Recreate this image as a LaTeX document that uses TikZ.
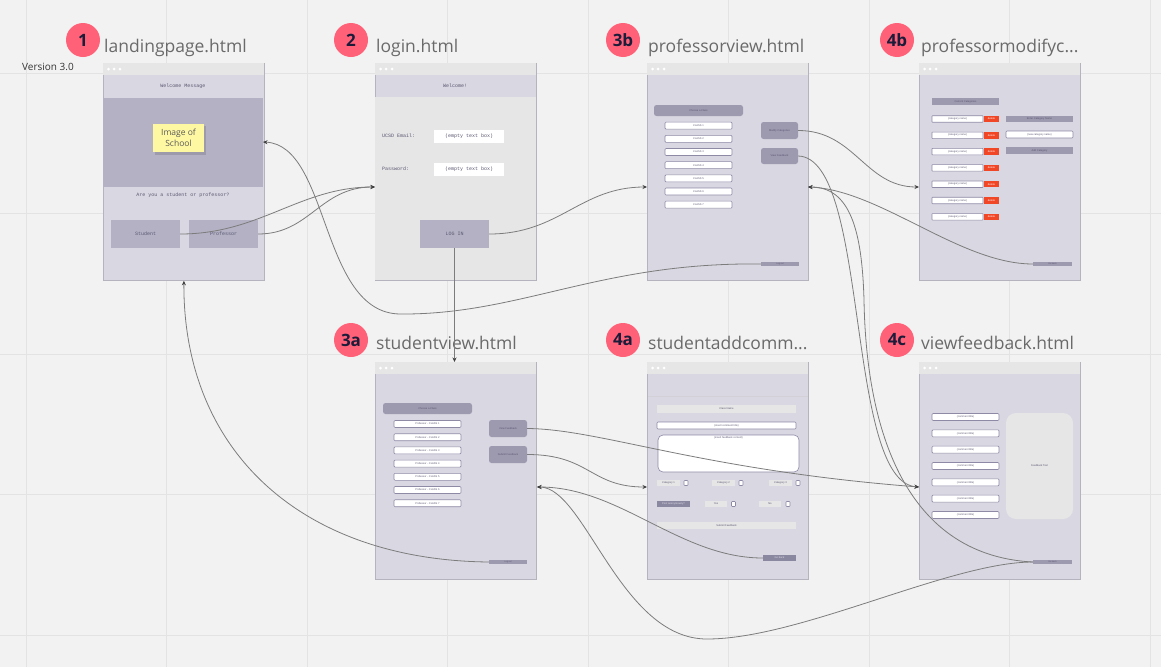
\documentclass[tikz,border=0pt]{standalone}
\usepackage{fontspec}
\setmainfont{Open Sans}
\newfontfamily\monof{Liberation Mono}
\newfontfamily\smallf{Liberation Sans}
\usetikzlibrary{arrows.meta}
\definecolor{bgc}{HTML}{F2F2F2}
\definecolor{gridc}{HTML}{E3E3E3}
\definecolor{framebg}{HTML}{D9D7E1}
\definecolor{framebd}{HTML}{B5B3BD}
\definecolor{barc}{HTML}{E6E6E6}
\definecolor{imgc}{HTML}{B3B1C3}
\definecolor{pbtn}{HTML}{9D9AB0}
\definecolor{dbtn}{HTML}{8A87A1}
\definecolor{boxbd}{HTML}{8E8AA6}
\definecolor{redc}{HTML}{F24726}
\definecolor{stickyc}{HTML}{FFF8A3}
\definecolor{badgec}{HTML}{FF6278}
\definecolor{badget}{HTML}{1B1B3A}
\definecolor{titlec}{HTML}{6A6A6A}
\definecolor{wtxt}{HTML}{5A5872}
\definecolor{linec}{HTML}{7C7C7C}
\tikzset{
 frm/.style={rectangle, draw=framebd, fill=framebg, line width=0.8pt, minimum width=161pt, minimum height=217pt, inner sep=0pt, anchor=north west},
 mono/.style={font=\monof\fontsize{5}{6}\selectfont, text=wtxt, inner sep=0pt},
 tinyt/.style={font=\smallf\fontsize{2.6}{3}\selectfont, text=wtxt, inner sep=0pt},
 flatbox/.style={rectangle, inner sep=0pt, tinyt},
 wbox/.style={flatbox, fill=white, draw=boxbd, line width=0.6pt, rounded corners=1pt},
 pbar/.style={flatbox, fill=pbtn},
 pround/.style={flatbox, fill=pbtn, rounded corners=2.5pt},
 gbar/.style={flatbox, fill=barc},
 dbar/.style={flatbox, fill=dbtn, text=white!80!wtxt},
 redbtn/.style={flatbox, fill=redc, text=white},
 chk/.style={rectangle, fill=white, draw=boxbd, line width=0.6pt, rounded corners=0.8pt, minimum width=4pt, minimum height=5pt, inner sep=0pt},
 bigbtn/.style={rectangle, fill=imgc, mono, minimum width=69pt, minimum height=28pt},
 badge/.style={circle, fill=badgec, minimum size=34pt, inner sep=0pt, text=badget, font=\bfseries\fontsize{17}{17}\selectfont},
 ttl/.style={anchor=base west, inner sep=0pt, text=titlec, font=\fontsize{17.5}{20}\selectfont},
 conn/.style={draw=linec, line width=0.8pt},
 arr/.style={conn, -{Stealth[length=4.5pt,width=4pt,color=black!75]}},
}
\newcommand\wireframe[3]{%
 \node[frm] (#1) at (#2,#3) {};
 \fill[barc] (#2+0.4,#3+0.4) rectangle (#2+160.6,#3+11.5);
 \fill[white] (#2+5.5,#3+6) circle (1.5) (#2+11.2,#3+6) circle (1.5) (#2+17,#3+6) circle (1.5);
}
\begin{document}
\begin{tikzpicture}[x=1pt,y=-1pt]
\useasboundingbox (0,0) rectangle (1161,667);
\fill[bgc] (0,0) rectangle (1161,667);
\foreach \gx in {0,...,8} \draw[gridc, line width=1pt] (26+140.5*\gx,0) -- (26+140.5*\gx,667);
\foreach \gy in {0,...,4} \draw[gridc, line width=1pt] (0,73+140.5*\gy) -- (1161,73+140.5*\gy);

\node[anchor=west, inner sep=0pt, font=\fontsize{10}{12}\selectfont, text=black!80] (ver) at (22,67) {Version 3.0};

% badges and titles
\node[badge] (b1) at (83,40) {1};
\node[ttl] (t1) at (104,52) {landingpage.html};
\node[badge] (b2) at (351,40) {2};
\node[ttl] (t2) at (376,52) {login.html};
\node[badge] (b3b) at (623,40) {3b};
\node[ttl] (t3b) at (648,52) {professorview.html};
\node[badge] (b4b) at (897,40) {4b};
\node[ttl] (t4b) at (921,52) {professormodifyc...};
\node[badge] (b3a) at (351,340) {3a};
\node[ttl] (t3a) at (376,349) {studentview.html};
\node[badge] (b4a) at (623,340) {4a};
\node[ttl] (t4a) at (648,349) {studentaddcomm...};
\node[badge] (b4c) at (897,340) {4c};
\node[ttl] (t4c) at (921,349) {viewfeedback.html};

% 1 landing page
\wireframe{landing}{103}{63}
\node[mono] (lhead) at (183,86) {Welcome Message};
\fill[imgc] (103.4,98) rectangle (262.6,187);
\fill[black, opacity=0.12] (154.5,126) rectangle (205.5,155);
\node[rectangle, fill=stickyc, minimum width=51pt, minimum height=28pt, inner sep=0pt, align=center, text=black!65, font=\fontsize{8.5}{11.5}\selectfont] (sticky) at (178.5,138) {Image of\\School};
\node[mono] (lq) at (183,195) {Are you a student or professor?};
\node[bigbtn] (studbtn) at (145.5,234) {Student};
\node[bigbtn] (profbtn) at (223.5,234) {Professor};

% 2 login
\wireframe{login}{375}{63}
\fill[barc] (375.4,97) rectangle (535.6,279.6);
\node[mono] (lwel) at (455,86) {Welcome!};
\node[mono, anchor=west] (lemail) at (382,135.5) {UCSD Email:};
\node[rectangle, fill=white, minimum width=70pt, minimum height=13pt, mono] (ebox) at (469,136.5) {(empty text box)};
\node[mono, anchor=west] (lpw) at (382,169) {Password:};
\node[rectangle, fill=white, minimum width=70pt, minimum height=13pt, mono] (pbox) at (469,169.5) {(empty text box)};
\node[bigbtn] (loginbtn) at (454.5,234) {LOG IN};

% 3b professor view
\wireframe{profview}{647}{63}
\node[pround, minimum width=89pt, minimum height=11pt] (pchoose) at (698.5,110.5) {Choose a Class};
\foreach \i in {1,...,7} \node[wbox, minimum width=67pt, minimum height=7pt] (pc\i) at (698.5,112.5+13.17*\i) {CLASS \i};
\node[pround, minimum width=37pt, minimum height=17pt] (pmod) at (779.5,130.5) {Modify Categories};
\node[pround, minimum width=37pt, minimum height=16pt] (pview) at (779.5,156) {View Feedback};
\node[pbar, minimum width=38pt, minimum height=4pt, font=\smallf\fontsize{2.2}{2.5}\selectfont] (plogout) at (780,264) {Log out};

% 4b professor modify
\wireframe{modify}{919}{63}
\node[pbar, minimum width=67pt, minimum height=7pt] (mcur) at (965.5,101.5) {Current Categories};
\foreach \i in {0,...,6} {
 \node[wbox, rounded corners=0.5pt, minimum width=51pt, minimum height=6.5pt] (mc\i) at (957.5,119+16.3*\i) {(category name)};
 \node[redbtn, minimum width=15pt, minimum height=6.5pt] (md\i) at (991.5,119+16.3*\i) {delete};
}
\node[pbar, minimum width=67pt, minimum height=6.5pt] (menter) at (1039.5,119) {Enter Category Name};
\node[wbox, minimum width=67pt, minimum height=7pt] (mnew) at (1039.5,134.5) {(new category name)};
\node[pbar, minimum width=67pt, minimum height=7pt] (madd) at (1039.5,150.5) {Add Category};
\node[pbar, minimum width=39pt, minimum height=4pt, font=\smallf\fontsize{2.2}{2.5}\selectfont] (mback) at (1052.5,264) {Go back};

% 3a student view
\wireframe{studview}{375}{362}
\node[pround, minimum width=89pt, minimum height=11pt] (schoose) at (427.5,408.5) {Choose a Class};
\foreach \i in {1,...,7} \node[wbox, minimum width=67pt, minimum height=7pt] (sc\i) at (427.5,410.8+13.2*\i) {Professor - CLASS \i};
\node[pround, minimum width=38pt, minimum height=17pt] (sview) at (508,428.5) {View Feedback};
\node[pround, minimum width=38pt, minimum height=17pt] (ssub) at (508,454.5) {Submit Feedback};
\node[pbar, minimum width=38pt, minimum height=4pt, font=\smallf\fontsize{2.2}{2.5}\selectfont] (slogout) at (508,562) {Log out};

% 4a student add comment
\wireframe{addcomm}{647}{362}
\draw[framebd!60, line width=0.5pt] (647.5,396) -- (807.5,396);
\node[gbar, minimum width=139pt, minimum height=8pt] (aclass) at (726.5,409) {Class Name};
\node[wbox, minimum width=139pt, minimum height=7pt] (atitle) at (726.5,425.5) {(insert comment title)};
\node[wbox, rounded corners=5pt, minimum width=141pt, minimum height=37pt] (acontent) at (728.5,453.5) {};
\node[tinyt] (acontentt) at (728.5,438) {(insert feedback content)};
\node[gbar, minimum width=23pt, minimum height=6pt] (acat1) at (668.5,483) {Category 1};
\node[chk] (ack1) at (686,483) {};
\node[gbar, minimum width=23pt, minimum height=6pt] (acat2) at (723.5,483) {Category 2};
\node[chk] (ack2) at (741,483) {};
\node[gbar, minimum width=23pt, minimum height=6pt] (acat3) at (780.5,483) {Category 3};
\node[chk] (ack3) at (798,483) {};
\node[dbar, minimum width=33pt, minimum height=6pt] (aanon) at (673.5,504) {Post anonymously?};
\node[gbar, minimum width=22pt, minimum height=6pt] (ayes) at (716,504) {Yes};
\node[chk] (ackyes) at (733.5,504) {};
\node[gbar, minimum width=22pt, minimum height=6pt] (ano) at (770,504) {No};
\node[chk] (ackno) at (788,504) {};
\node[gbar, minimum width=139pt, minimum height=7pt] (asubmit) at (726.5,525.5) {Submit Feedback};
\node[dbar, minimum width=33pt, minimum height=6pt] (aback) at (779.5,558) {Go back};

% 4c view feedback
\wireframe{feedback}{919}{362}
\foreach \i in {0,...,6} \node[wbox, minimum width=67pt, minimum height=7pt] (fc\i) at (965.5,417+16.33*\i) {(comment title)};
\node[gbar, rounded corners=10pt, minimum width=67pt, minimum height=106pt] (ftext) at (1039.5,466) {Feedback Text};
\node[pbar, minimum width=39pt, minimum height=4pt, font=\smallf\fontsize{2.2}{2.5}\selectfont] (fback) at (1052.5,562) {Go back};

% connection points
\coordinate (loginIn) at (375,187);
\coordinate (landIn) at (263,142);
\coordinate (profIn) at (647,187);
\coordinate (profBack) at (808,187);
\coordinate (modIn) at (919,187);
\coordinate (studBack) at (537,487);
\coordinate (addIn) at (647,487);
\coordinate (fbIn) at (919,487);

% connectors
\draw[arr] (studbtn.east) .. controls (260,234) and (300,187) .. (loginIn);
\draw[arr] (profbtn.east) .. controls (310,234) and (320,187) .. (loginIn);
\draw[arr] (loginbtn.east) .. controls (560,234) and (580,187) .. (profIn);
\draw[arr] (loginbtn.south) -- (loginbtn.south |- studview.north);
\draw[arr] (plogout.west) .. controls (600,262) and (520,315) .. (400,314) .. controls (320,313) and (330,145) .. (landIn);
\draw[arr] (slogout.west) .. controls (300,560) and (183,450) .. (landing.south);
\draw[arr] (pmod.east) .. controls (855,130.5) and (865,187) .. (modIn);
\draw[arr] (pview.east) .. controls (870,158) and (845,482) .. (fbIn);
\draw[arr] (mback.west) .. controls (960,264) and (880,190) .. (profBack);
\draw[arr] (fback.west) .. controls (900,555) and (866,420) .. (864,300) .. controls (862,230) and (850,187) .. (profBack);
\draw[arr] (sview.east) .. controls (600,429) and (700,470) .. (fbIn);
\draw[arr] (ssub.east) .. controls (590,454.5) and (590,487) .. (addIn);
\draw[arr] (aback.west) .. controls (680,558) and (620,487) .. (studBack);
\draw[arr] (fback.west) .. controls (950,562) and (800,639) .. (707,639) .. controls (620,639) and (585,487) .. (studBack);
\end{tikzpicture}
\end{document}
